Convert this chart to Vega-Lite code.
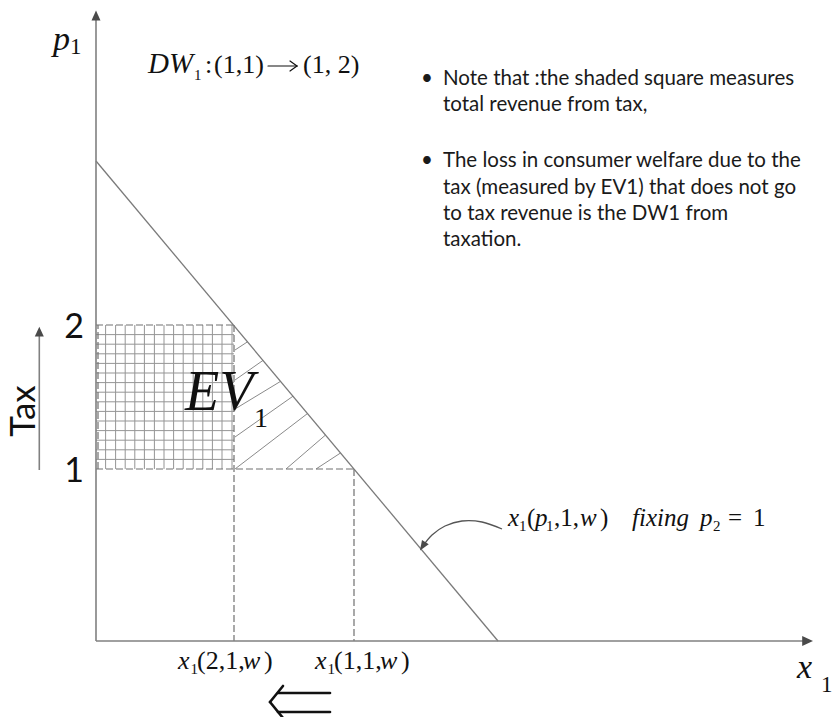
{
  "$schema": "https://vega.github.io/schema/vega-lite/v6.json",
  "width": 833,
  "height": 717,
  "autosize": {"type": "none"},
  "padding": 0,
  "background": "white",
  "config": {"view": {"stroke": null}},
  "datasets": {
    "axes": [
      {"x": 0, "y": 0, "x2": 0, "y2": 15.6},
      {"x": 0, "y": 0, "x2": 17.7, "y2": 0},
      {"x": -1.4175, "y": 4.275, "x2": -1.4175, "y2": 7.65}
    ],
    "headsUp": [
      {"x": 0, "y": 15.76},
      {"x": -1.4175, "y": 7.8575}
    ],
    "headsRight": [
      {"x": 17.925, "y": 0}
    ],
    "headsCurve": [
      {"x": 8.1, "y": 2.2625}
    ],
    "demand": [
      {"x": 0, "y": 12, "x2": 10.05, "y2": 0}
    ],
    "guides": [
      {"x": 0, "y": 7.9, "x2": 3.45, "y2": 7.9},
      {"x": 3.45, "y": 7.9, "x2": 3.45, "y2": 0},
      {"x": 0, "y": 4.3, "x2": 6.45, "y2": 4.3},
      {"x": 6.45, "y": 4.3, "x2": 6.45, "y2": 0},
      {"x": 0.05, "y": 4.3, "x2": 0.05, "y2": 7.9}
    ],
    "grid": [
      {"x": 0.24, "y": 4.3, "x2": 0.24, "y2": 7.9},
      {"x": 0.49, "y": 4.3, "x2": 0.49, "y2": 7.9},
      {"x": 0.73, "y": 4.3, "x2": 0.73, "y2": 7.9},
      {"x": 0.97, "y": 4.3, "x2": 0.97, "y2": 7.9},
      {"x": 1.21, "y": 4.3, "x2": 1.21, "y2": 7.9},
      {"x": 1.46, "y": 4.3, "x2": 1.46, "y2": 7.9},
      {"x": 1.70, "y": 4.3, "x2": 1.70, "y2": 7.9},
      {"x": 1.94, "y": 4.3, "x2": 1.94, "y2": 7.9},
      {"x": 2.18, "y": 4.3, "x2": 2.18, "y2": 7.9},
      {"x": 2.43, "y": 4.3, "x2": 2.43, "y2": 7.9},
      {"x": 2.67, "y": 4.3, "x2": 2.67, "y2": 7.9},
      {"x": 2.91, "y": 4.3, "x2": 2.91, "y2": 7.9},
      {"x": 3.15, "y": 4.3, "x2": 3.15, "y2": 7.9},
      {"x": 3.40, "y": 4.3, "x2": 3.40, "y2": 7.9},
      {"x": 0, "y": 4.54, "x2": 3.45, "y2": 4.54},
      {"x": 0, "y": 4.78, "x2": 3.45, "y2": 4.78},
      {"x": 0, "y": 5.02, "x2": 3.45, "y2": 5.02},
      {"x": 0, "y": 5.26, "x2": 3.45, "y2": 5.26},
      {"x": 0, "y": 5.50, "x2": 3.45, "y2": 5.50},
      {"x": 0, "y": 5.74, "x2": 3.45, "y2": 5.74},
      {"x": 0, "y": 5.98, "x2": 3.45, "y2": 5.98},
      {"x": 0, "y": 6.22, "x2": 3.45, "y2": 6.22},
      {"x": 0, "y": 6.46, "x2": 3.45, "y2": 6.46},
      {"x": 0, "y": 6.70, "x2": 3.45, "y2": 6.70},
      {"x": 0, "y": 6.94, "x2": 3.45, "y2": 6.94},
      {"x": 0, "y": 7.18, "x2": 3.45, "y2": 7.18},
      {"x": 0, "y": 7.42, "x2": 3.45, "y2": 7.42},
      {"x": 0, "y": 7.66, "x2": 3.45, "y2": 7.66}
    ],
    "hatch": [
      {"x": 3.475, "y": 7.275, "x2": 3.7875, "y2": 7.48},
      {"x": 3.475, "y": 6.525, "x2": 4.175, "y2": 7.015},
      {"x": 3.475, "y": 5.8, "x2": 4.6125, "y2": 6.49},
      {"x": 3.475, "y": 5.1, "x2": 4.925, "y2": 6.12},
      {"x": 3.475, "y": 4.3, "x2": 5.2875, "y2": 5.687},
      {"x": 4.75, "y": 4.3, "x2": 5.7375, "y2": 5.149},
      {"x": 5.5, "y": 4.3, "x2": 6.1125, "y2": 4.70}
    ],
    "backArrow": [
      {"x": 4.55, "y": -1.3, "x2": 5.85, "y2": -1.3},
      {"x": 4.55, "y": -1.775, "x2": 5.85, "y2": -1.775},
      {"x": 4.675, "y": -1.125, "x2": 4.35, "y2": -1.525},
      {"x": 4.35, "y": -1.525, "x2": 4.675, "y2": -1.925}
    ],
    "mapsTo": [
      {"x": 4.3, "y": 14.375, "x2": 5.025, "y2": 14.375},
      {"x": 5.025, "y": 14.375, "x2": 4.85, "y2": 14.5},
      {"x": 5.025, "y": 14.375, "x2": 4.85, "y2": 14.25}
    ],
    "curve": [
      {"o": 1, "x": 10.15, "y": 2.8},
      {"o": 2, "x": 9.65, "y": 2.975},
      {"o": 3, "x": 9.15, "y": 3.0},
      {"o": 4, "x": 8.725, "y": 2.875},
      {"o": 5, "x": 8.4, "y": 2.65},
      {"o": 6, "x": 8.175, "y": 2.375}
    ],
    "labels": [
      {"g": "bigIt", "text": "p", "x": -1.075, "y": 14.775},
      {"g": "bigIt", "text": "x", "x": 17.525, "y": -0.925},
      {"g": "bigSub", "text": "1", "x": -0.65, "y": 14.675},
      {"g": "bigSub", "text": "1", "x": 18.125, "y": -1.275},

      {"g": "dw", "text": "DW", "x": 1.3, "y": 14.2},
      {"g": "it", "text": "x", "x": 2.05, "y": -0.7},
      {"g": "it", "text": "w", "x": 3.675, "y": -0.7},
      {"g": "it", "text": "x", "x": 5.475, "y": -0.7},
      {"g": "it", "text": "w", "x": 7.1, "y": -0.7},
      {"g": "up", "text": ":", "x": 2.725, "y": 14.2},
      {"g": "up", "text": "(1,1)", "x": 2.95, "y": 14.2},
      {"g": "up", "text": "(1,  2)", "x": 5.175, "y": 14.2},
      {"g": "up", "text": "(2,1,", "x": 2.525, "y": -0.7},
      {"g": "up", "text": ")", "x": 4.2, "y": -0.7},
      {"g": "up", "text": "(1,1,", "x": 5.95, "y": -0.7},
      {"g": "up", "text": ")", "x": 7.625, "y": -0.7},
      {"g": "sub", "text": "1", "x": 2.45, "y": 14.025},
      {"g": "sub", "text": "1", "x": 2.3625, "y": -0.825},
      {"g": "sub", "text": "1", "x": 5.7875, "y": -0.825},

      {"g": "cIt", "text": "x", "x": 10.3, "y": 2.875},
      {"g": "cIt", "text": "p", "x": 10.975, "y": 2.875},
      {"g": "cIt", "text": "w", "x": 12.1, "y": 2.875},
      {"g": "cIt", "text": "fixing", "x": 13.4, "y": 2.875},
      {"g": "cIt", "text": "p", "x": 15.1, "y": 2.875},
      {"g": "cUp", "text": "(", "x": 10.775, "y": 2.875},
      {"g": "cUp", "text": ",1,", "x": 11.45, "y": 2.875},
      {"g": "cUp", "text": ")", "x": 12.6, "y": 2.875},
      {"g": "cUp", "text": "=", "x": 15.8, "y": 2.875},
      {"g": "cUp", "text": "1", "x": 16.425, "y": 2.875},
      {"g": "cSub", "text": "1", "x": 10.575, "y": 2.75},
      {"g": "cSub", "text": "1", "x": 11.25, "y": 2.75},
      {"g": "cSub", "text": "2", "x": 15.425, "y": 2.75},

      {"g": "ev", "text": "EV", "x": 2.225, "y": 5.775},
      {"g": "evSub", "text": "1", "x": 3.95, "y": 5.35},

      {"g": "tick", "text": "2", "x": -0.55, "y": 7.575},
      {"g": "tick", "text": "1", "x": -0.55, "y": 3.975},
      {"g": "tax", "text": "Tax", "x": -1.525, "y": 5.75},

      {"g": "note", "text": "•", "x": 8.125, "y": 13.9},
      {"g": "note", "text": "Note that :the shaded square measures", "x": 8.675, "y": 13.9},
      {"g": "note", "text": "total revenue from tax,", "x": 8.675, "y": 13.25},
      {"g": "note", "text": "•", "x": 8.125, "y": 11.85},
      {"g": "note", "text": "The loss in consumer welfare due to the", "x": 8.675, "y": 11.85},
      {"g": "note", "text": "tax (measured by EV1) that does not go", "x": 8.675, "y": 11.175},
      {"g": "note", "text": "to tax revenue is the DW1 from", "x": 8.675, "y": 10.525},
      {"g": "note", "text": "taxation.", "x": 8.675, "y": 9.875}
    ]
  },
  "encoding": {
    "x": {"field": "x", "type": "quantitative", "axis": null,
          "scale": {"domain": [-2.4, 18.425], "nice": false, "zero": false}},
    "y": {"field": "y", "type": "quantitative", "axis": null,
          "scale": {"domain": [-1.9, 16.025], "nice": false, "zero": false}}
  },
  "layer": [
    {
      "data": {"name": "grid"},
      "mark": {"type": "rule", "stroke": "#959595", "strokeWidth": 1},
      "encoding": {"x2": {"field": "x2"}, "y2": {"field": "y2"}}
    },
    {
      "data": {"name": "hatch"},
      "mark": {"type": "rule", "stroke": "#8a8a8a", "strokeWidth": 1},
      "encoding": {"x2": {"field": "x2"}, "y2": {"field": "y2"}}
    },
    {
      "data": {"name": "guides"},
      "mark": {"type": "rule", "stroke": "#707070", "strokeWidth": 1.2, "strokeDash": [7, 3]},
      "encoding": {"x2": {"field": "x2"}, "y2": {"field": "y2"}}
    },
    {
      "data": {"name": "demand"},
      "mark": {"type": "rule", "stroke": "#7a7a7a", "strokeWidth": 1.3},
      "encoding": {"x2": {"field": "x2"}, "y2": {"field": "y2"}}
    },
    {
      "data": {"name": "axes"},
      "mark": {"type": "rule", "stroke": "#808080", "strokeWidth": 1.6},
      "encoding": {"x2": {"field": "x2"}, "y2": {"field": "y2"}}
    },
    {
      "data": {"name": "backArrow"},
      "mark": {"type": "rule", "stroke": "#111111", "strokeWidth": 2.6, "strokeCap": "round"},
      "encoding": {"x2": {"field": "x2"}, "y2": {"field": "y2"}}
    },
    {
      "data": {"name": "mapsTo"},
      "mark": {"type": "rule", "stroke": "#111111", "strokeWidth": 1.2, "strokeCap": "round"},
      "encoding": {"x2": {"field": "x2"}, "y2": {"field": "y2"}}
    },
    {
      "data": {"name": "curve"},
      "mark": {"type": "line", "interpolate": "cardinal", "stroke": "#555555", "strokeWidth": 1.3},
      "encoding": {"order": {"field": "o", "type": "quantitative"}}
    },
    {
      "data": {"name": "headsUp"},
      "mark": {"type": "point", "shape": "M0,0L-1,2.2L1,2.2Z", "size": 81, "filled": true, "opacity": 1, "color": "#4a4a4a", "strokeWidth": 0}
    },
    {
      "data": {"name": "headsRight"},
      "mark": {"type": "point", "shape": "M0,0L-2.4,-1.1L-2.4,1.1Z", "size": 81, "filled": true, "opacity": 1, "color": "#4a4a4a", "strokeWidth": 0}
    },
    {
      "data": {"name": "headsCurve"},
      "mark": {"type": "point", "shape": "M0,0L1.94,-1.4L0.44,-2.35Z", "size": 81, "filled": true, "opacity": 1, "color": "#4a4a4a", "strokeWidth": 0}
    },
    {
      "data": {"name": "labels"},
      "transform": [{"filter": "datum.g === 'bigIt'"}],
      "mark": {"type": "text", "font": "Liberation Serif", "fontStyle": "italic", "fontSize": 34, "align": "left", "baseline": "alphabetic", "color": "#111111"},
      "encoding": {"text": {"field": "text"}}
    },
    {
      "data": {"name": "labels"},
      "transform": [{"filter": "datum.g === 'bigSub'"}],
      "mark": {"type": "text", "font": "Liberation Serif", "fontSize": 23, "align": "left", "baseline": "alphabetic", "color": "#111111"},
      "encoding": {"text": {"field": "text"}}
    },
    {
      "data": {"name": "labels"},
      "transform": [{"filter": "datum.g === 'dw'"}],
      "mark": {"type": "text", "font": "Liberation Serif", "fontStyle": "italic", "fontSize": 29, "align": "left", "baseline": "alphabetic", "color": "#111111"},
      "encoding": {"text": {"field": "text"}}
    },
    {
      "data": {"name": "labels"},
      "transform": [{"filter": "datum.g === 'it'"}],
      "mark": {"type": "text", "font": "Liberation Serif", "fontStyle": "italic", "fontSize": 26, "align": "left", "baseline": "alphabetic", "color": "#111111"},
      "encoding": {"text": {"field": "text"}}
    },
    {
      "data": {"name": "labels"},
      "transform": [{"filter": "datum.g === 'up'"}],
      "mark": {"type": "text", "font": "Liberation Serif", "fontSize": 26, "align": "left", "baseline": "alphabetic", "color": "#111111"},
      "encoding": {"text": {"field": "text"}}
    },
    {
      "data": {"name": "labels"},
      "transform": [{"filter": "datum.g === 'sub'"}],
      "mark": {"type": "text", "font": "Liberation Serif", "fontSize": 15, "align": "left", "baseline": "alphabetic", "color": "#111111"},
      "encoding": {"text": {"field": "text"}}
    },
    {
      "data": {"name": "labels"},
      "transform": [{"filter": "datum.g === 'cIt'"}],
      "mark": {"type": "text", "font": "Liberation Serif", "fontStyle": "italic", "fontSize": 25, "align": "left", "baseline": "alphabetic", "color": "#111111"},
      "encoding": {"text": {"field": "text"}}
    },
    {
      "data": {"name": "labels"},
      "transform": [{"filter": "datum.g === 'cUp'"}],
      "mark": {"type": "text", "font": "Liberation Serif", "fontSize": 25, "align": "left", "baseline": "alphabetic", "color": "#111111"},
      "encoding": {"text": {"field": "text"}}
    },
    {
      "data": {"name": "labels"},
      "transform": [{"filter": "datum.g === 'cSub'"}],
      "mark": {"type": "text", "font": "Liberation Serif", "fontSize": 15, "align": "left", "baseline": "alphabetic", "color": "#111111"},
      "encoding": {"text": {"field": "text"}}
    },
    {
      "data": {"name": "labels"},
      "transform": [{"filter": "datum.g === 'ev'"}],
      "mark": {"type": "text", "font": "Liberation Serif", "fontStyle": "italic", "fontSize": 56, "align": "left", "baseline": "alphabetic", "color": "#111111"},
      "encoding": {"text": {"field": "text"}}
    },
    {
      "data": {"name": "labels"},
      "transform": [{"filter": "datum.g === 'evSub'"}],
      "mark": {"type": "text", "font": "Liberation Serif", "fontSize": 28, "align": "left", "baseline": "alphabetic", "color": "#111111"},
      "encoding": {"text": {"field": "text"}}
    },
    {
      "data": {"name": "labels"},
      "transform": [{"filter": "datum.g === 'tick'"}],
      "mark": {"type": "text", "font": "Lato", "fontSize": 34, "align": "center", "baseline": "alphabetic", "color": "#111111"},
      "encoding": {"text": {"field": "text"}}
    },
    {
      "data": {"name": "labels"},
      "transform": [{"filter": "datum.g === 'tax'"}],
      "mark": {"type": "text", "font": "Lato", "fontSize": 35, "angle": 270, "align": "center", "baseline": "alphabetic", "color": "#111111"},
      "encoding": {"text": {"field": "text"}}
    },
    {
      "data": {"name": "labels"},
      "transform": [{"filter": "datum.g === 'note'"}],
      "mark": {"type": "text", "font": "Lato", "fontSize": 20.5, "align": "left", "baseline": "alphabetic", "color": "#1a1a1a"},
      "encoding": {"text": {"field": "text"}}
    }
  ]
}
